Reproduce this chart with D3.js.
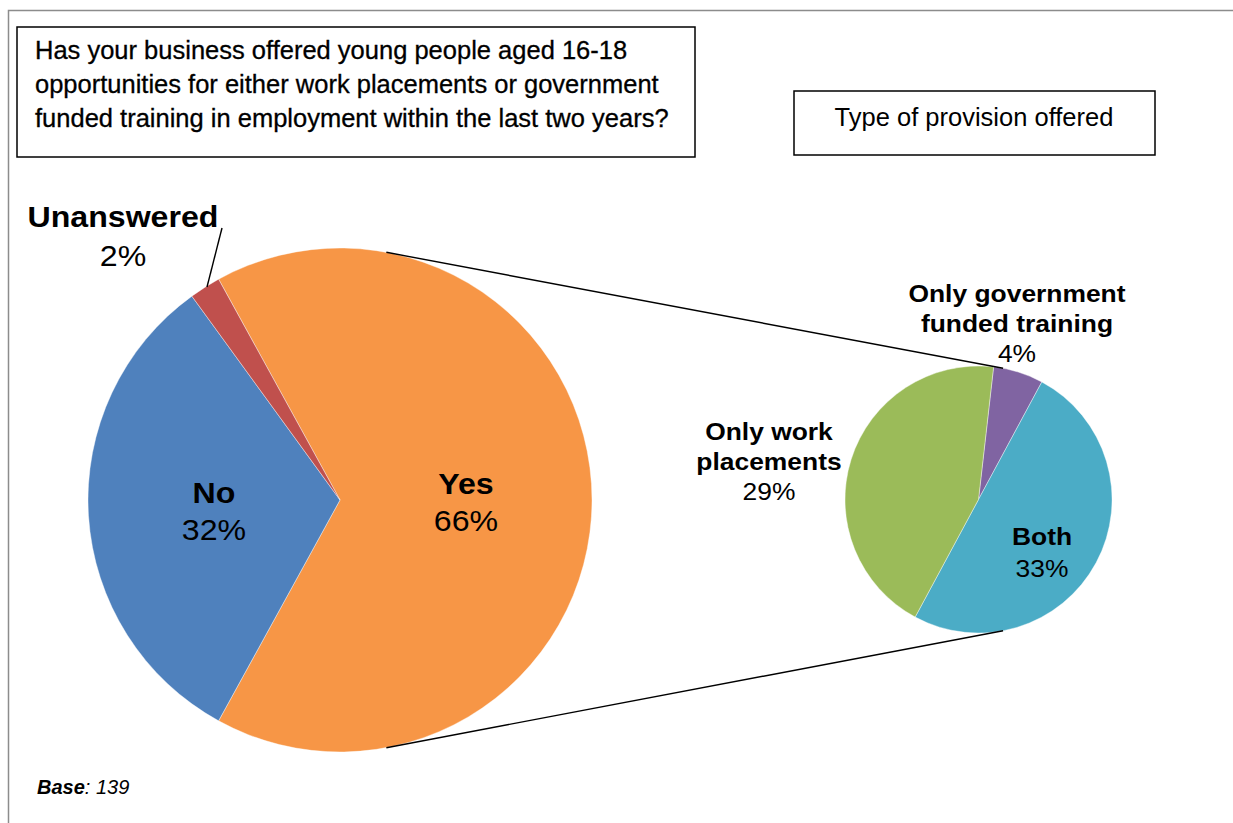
<!DOCTYPE html>
<html>
<head>
<meta charset="utf-8">
<script src="https://cdn.jsdelivr.net/npm/d3@7"></script>
<style>
  html, body { margin: 0; padding: 0; background: #fff; }
  svg { display: block; font-family: "Liberation Sans", Arial, sans-serif; }
</style>
</head>
<body>
<svg id="chart" width="1233" height="823"></svg>
<script>
// Survey answers (percent of all respondents)
const mainCategories = ["Yes", "No", "Unanswered"];
const mainValues = [66, 32, 2];
const mainColors = ["#F79646", "#4F81BD", "#C0504D"];

// Breakdown of the "Yes" answers by type of provision (percent of all respondents)
const subCategories = ["Only government funded training", "Both", "Only work placements"];
const subValues = [4, 33, 29];
const subColors = ["#8064A2", "#4BACC6", "#9BBB59"];

const questionLines = [
  "Has your business offered young people aged 16-18",
  "opportunities for either work placements or government",
  "funded training in employment within the last two years?"
];
const subTitle = "Type of provision offered";
const baseLabel = "139";

const svg = d3.select("#chart");
const deg = Math.PI / 180;

// Widen a text element horizontally by a factor (the typeface used is a bit wider than Arial)
function widen(sel, k) {
  sel.each(function () {
    const w = this.getComputedTextLength();
    d3.select(this).attr("textLength", w * k).attr("lengthAdjust", "spacingAndGlyphs");
  });
  return sel;
}

// Frame (left and top edges)
svg.append("path")
  .attr("d", "M8.5,823 L8.5,10.5 L1233,10.5")
  .attr("fill", "none").attr("stroke", "#8c8c8c").attr("stroke-width", 1.5);

// Question box
svg.append("rect").attr("x", 17).attr("y", 27).attr("width", 678).attr("height", 130)
  .attr("fill", "#fff").attr("stroke", "#000").attr("stroke-width", 1.5);
widen(svg.append("g").selectAll("text").data(questionLines).join("text")
  .attr("x", 35).attr("y", (d, i) => 59 + i * 34)
  .attr("font-size", 25).attr("fill", "#000")
  .attr("stroke", "#000").attr("stroke-width", 0.3)
  .text(d => d), 1.02);

// Secondary title box
svg.append("rect").attr("x", 794).attr("y", 91).attr("width", 361).attr("height", 64)
  .attr("fill", "#fff").attr("stroke", "#000").attr("stroke-width", 1.5);
widen(svg.append("text").attr("x", 974).attr("y", 126).attr("text-anchor", "middle")
  .attr("font-size", 25).attr("fill", "#000").text(subTitle), 1.02);

// Main pie
const main = { cx: 340, cy: 500, r: 252 };
const yesSpan = mainValues[0] / d3.sum(mainValues) * 2 * Math.PI;
const mainPie = d3.pie().sort(null).value(d => d)
  .startAngle(Math.PI / 2 - yesSpan / 2)
  .endAngle(Math.PI / 2 - yesSpan / 2 + 2 * Math.PI);
const mainArcs = mainPie(mainValues);
const mainArc = d3.arc().innerRadius(0).outerRadius(main.r);
const gMain = svg.append("g").attr("transform", `translate(${main.cx},${main.cy})`);
gMain.selectAll("path").data(mainArcs).join("path")
  .attr("d", mainArc).attr("fill", (d, i) => mainColors[i])
  .attr("stroke", "#fff").attr("stroke-width", 0.4);

// Secondary pie
const sub = { cx: 978.5, cy: 499.5, r: 133.5 };
const subStart = 6.5 * deg;
const subPie = d3.pie().sort(null).value(d => d)
  .startAngle(subStart).endAngle(subStart + 2 * Math.PI);
const subArcs = subPie(subValues);
const subArc = d3.arc().innerRadius(0).outerRadius(sub.r);
const gSub = svg.append("g").attr("transform", `translate(${sub.cx},${sub.cy})`);
gSub.selectAll("path").data(subArcs).join("path")
  .attr("d", subArc).attr("fill", (d, i) => subColors[i])
  .attr("stroke", "#fff").attr("stroke-width", 0.4);

// Connector lines between the two pies
const pt = (c, a) => [c.cx + c.r * Math.sin(a), c.cy - c.r * Math.cos(a)];
const conn = 10.6 * deg;
[[conn, conn], [Math.PI - conn, Math.PI - conn]].forEach(([a1, a2]) => {
  const p1 = pt(main, a1), p2 = pt(sub, a2);
  svg.append("line").attr("x1", p1[0]).attr("y1", p1[1]).attr("x2", p2[0]).attr("y2", p2[1])
    .attr("stroke", "#000").attr("stroke-width", 1.4);
});

// Data labels
function label(x, y, name, value, size, gap, k) {
  const g = svg.append("g").attr("fill", "#000").attr("text-anchor", "middle");
  const lines = Array.isArray(name) ? name : [name];
  lines.forEach((l, i) => {
    widen(g.append("text").attr("x", x).attr("y", y + i * gap)
      .attr("font-size", size).attr("font-weight", "bold").text(l), k);
  });
  widen(g.append("text").attr("x", x).attr("y", y + lines.length * gap)
    .attr("font-size", size).text(value + "%"), k);
}

label(466, 494, mainCategories[0], mainValues[0], 30, 37, 1.07);
label(214, 503, mainCategories[1], mainValues[1], 30, 37, 1.07);
label(123, 227, mainCategories[2], mainValues[2], 30, 39, 1.07);

// Leader line for the small slice
svg.append("line").attr("x1", 222).attr("y1", 228).attr("x2", 207).attr("y2", 287)
  .attr("stroke", "#000").attr("stroke-width", 1.4);

label(1017, 302, ["Only government", "funded training"], subValues[0], 24, 30, 1.1);
label(1042, 545, subCategories[1], subValues[1], 24, 32, 1.1);
label(769, 440, ["Only work", "placements"], subValues[2], 24, 30, 1.1);

// Base note
const base = svg.append("text").attr("x", 37).attr("y", 794)
  .attr("font-size", 20).attr("font-style", "italic").attr("fill", "#000");
base.append("tspan").attr("font-weight", "bold").text("Base");
base.append("tspan").text(": " + baseLabel);
</script>
</body>
</html>
